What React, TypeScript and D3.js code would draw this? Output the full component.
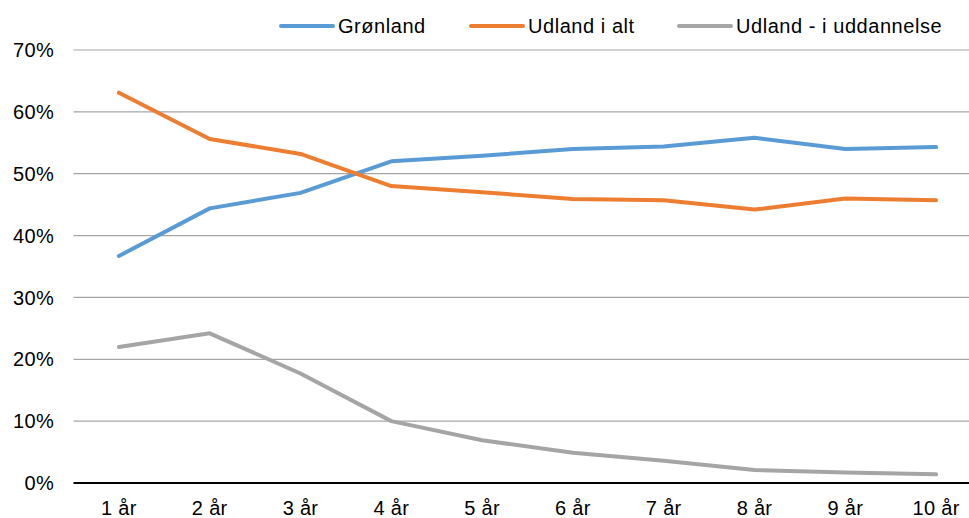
import React from "react";
import * as d3 from "d3";

const categories = ["1 år", "2 år", "3 år", "4 år", "5 år", "6 år", "7 år", "8 år", "9 år", "10 år"];
const gronland = [36.7, 44.4, 46.9, 52.0, 52.9, 54.0, 54.4, 55.8, 54.0, 54.3];
const udlandIAlt = [63.1, 55.6, 53.2, 48.0, 47.0, 45.9, 45.7, 44.2, 46.0, 45.7];
const udlandUddannelse = [22.0, 24.2, 17.7, 10.0, 6.9, 4.9, 3.6, 2.1, 1.7, 1.4];
const yTicks = [0, 10, 20, 30, 40, 50, 60, 70];

const seriesList = [
  { name: "Grønland", values: gronland, color: "#5B9BD5" },
  { name: "Udland i alt", values: udlandIAlt, color: "#ED7D31" },
  { name: "Udland - i uddannelse", values: udlandUddannelse, color: "#A5A5A5" },
];
const legendX = [281, 471, 679];

const W = 969;
const H = 518;
const FONT = "'Liberation Sans', Arial, sans-serif";

export default function App() {
  const plotLeft = 73.5;
  const x = d3.scaleBand<string>().domain(categories).range([plotLeft, plotLeft + 908]);
  const y = d3.scaleLinear().domain([0, 70]).range([483, 50]);
  const cx = (c: string) => (x(c) as number) + x.bandwidth() / 2;
  const line = d3
    .line<number>()
    .x((_, i) => cx(categories[i]))
    .y((d) => y(d));

  return (
    <svg
      width={W}
      height={H}
      style={{ position: "fixed", left: 0, top: 0, background: "#fff" }}
      fontFamily={FONT}
    >
      <rect x={0} y={0} width={W} height={H} fill="#fff" />
      {yTicks.map((t) => (
        <g key={t}>
          {t !== 0 && (
            <line x1={plotLeft} x2={W} y1={y(t)} y2={y(t)} stroke="#A6A6A6" strokeWidth={1.2} />
          )}
          <text x={54} y={y(t)} dy="0.36em" textAnchor="end" fontSize={20} fill="#000" letterSpacing={0.3}>
            {t}%
          </text>
        </g>
      ))}
      <line x1={plotLeft} x2={W} y1={y(0)} y2={y(0)} stroke="#000" strokeWidth={2} />
      {categories.map((c) => (
        <text key={c} x={cx(c)} y={515} textAnchor="middle" fontSize={20} fill="#000" letterSpacing={0.3}>
          {c}
        </text>
      ))}
      {seriesList.map((s) => (
        <path
          key={s.name}
          d={line(s.values) || ""}
          fill="none"
          stroke={s.color}
          strokeWidth={4}
          strokeLinejoin="round"
          strokeLinecap="round"
        />
      ))}
      {seriesList.map((s, i) => (
        <g key={s.name}>
          <line
            x1={legendX[i]}
            x2={legendX[i] + 52}
            y1={26}
            y2={26}
            stroke={s.color}
            strokeWidth={4}
            strokeLinecap="round"
          />
          <text x={legendX[i] + 57} y={33} fontSize={20} fill="#000" letterSpacing={0.55}>
            {s.name}
          </text>
        </g>
      ))}
    </svg>
  );
}
